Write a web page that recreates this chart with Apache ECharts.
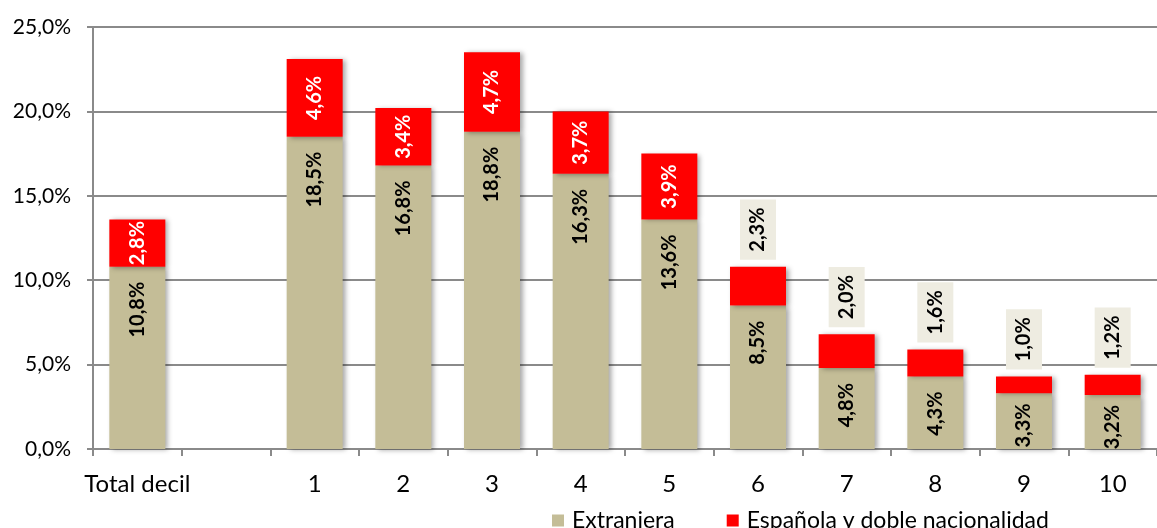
<!DOCTYPE html>
<html><head><meta charset="utf-8">
<script src="https://cdn.jsdelivr.net/npm/echarts@6/dist/echarts.min.js"></script>
<style>html,body{margin:0;padding:0;background:#fff}#c{width:1157px;height:528px}</style>
</head><body><div id="c"></div>
<script>
const categories = ["Total decil", "", "1", "2", "3", "4", "5", "6", "7", "8", "9", "10"];
const extranjera = [10.8, null, 18.5, 16.8, 18.8, 16.3, 13.6, 8.5, 4.8, 4.3, 3.3, 3.2];
const espanola = [2.8, null, 4.6, 3.4, 4.7, 3.7, 3.9, 2.3, 2.0, 1.6, 1.0, 1.2];
const yTicks = [0, 5, 10, 15, 20, 25];
const seriesNames = ["Extranjera", "Española y doble nacionalidad"];

const FONT = "Lato, 'Open Sans', sans-serif";
const fmt = v => v.toFixed(1).replace('.', ',') + '%';
const shadow = {shadowColor: 'rgba(0,0,0,0.35)', shadowBlur: 5, shadowOffsetX: 3, shadowOffsetY: 1};
const baseLabel = {show: true, rotate: 90, fontFamily: FONT, fontWeight: 'bold', fontSize: 20, color: '#000',
  formatter: p => p.value == null ? '' : fmt(p.value)};

const extData = extranjera.map(v => {
  if (v == null) return '-';
  return {value: v, label: {distance: v < 4 ? 10 : 15}};
});

const espData = espanola.map(v => {
  if (v == null) return '-';
  if (v < 2.5) {
    return {value: v, label: {position: 'top', distance: 7, align: 'left', verticalAlign: 'middle', color: '#000',
      backgroundColor: '#EEECE1', padding: [8, 8, 8, 8]}};
  }
  return v;
});

const chart = echarts.init(document.getElementById('c'), null, {renderer: 'canvas'});
chart.setOption({
  animation: false,
  grid: {left: 93, top: 27, width: 1067, height: 422},
  legend: {
    bottom: -4, left: 552, padding: 0, itemWidth: 12, itemHeight: 12, itemGap: 52, icon: 'rect',
    textStyle: {fontFamily: FONT, fontSize: 23, color: '#000', padding: [0, 0, 0, 3]},
    data: seriesNames
  },
  xAxis: {
    type: 'category', data: categories,
    axisLine: {lineStyle: {color: '#8a8a8a', width: 2}},
    axisTick: {show: true, length: 7, lineStyle: {color: '#8a8a8a', width: 2}},
    axisLabel: {interval: 0, fontFamily: FONT, fontSize: 24, color: '#000', margin: 23}
  },
  yAxis: {
    type: 'value', min: 0, max: 25, interval: 5,
    axisLine: {show: true, lineStyle: {color: '#8a8a8a', width: 2}},
    axisTick: {show: true, length: 6, lineStyle: {color: '#8a8a8a', width: 2}},
    splitLine: {lineStyle: {color: '#8a8a8a', width: 2}},
    axisLabel: {fontFamily: FONT, fontSize: 21, color: '#000', margin: 22,
      formatter: v => yTicks.includes(v) ? fmt(v) : ''}
  },
  series: [
    {name: seriesNames[0], type: 'bar', stack: 'a', barWidth: 56,
     itemStyle: Object.assign({color: '#C4BD97'}, shadow),
     label: Object.assign({}, baseLabel, {position: 'insideTop', align: 'right', verticalAlign: 'middle'}),
     data: extData},
    {name: seriesNames[1], type: 'bar', stack: 'a', barWidth: 56,
     itemStyle: Object.assign({color: '#FF0000'}, shadow),
     label: Object.assign({}, baseLabel, {position: 'inside', color: '#fff'}),
     data: espData}
  ]
});
</script></body></html>
